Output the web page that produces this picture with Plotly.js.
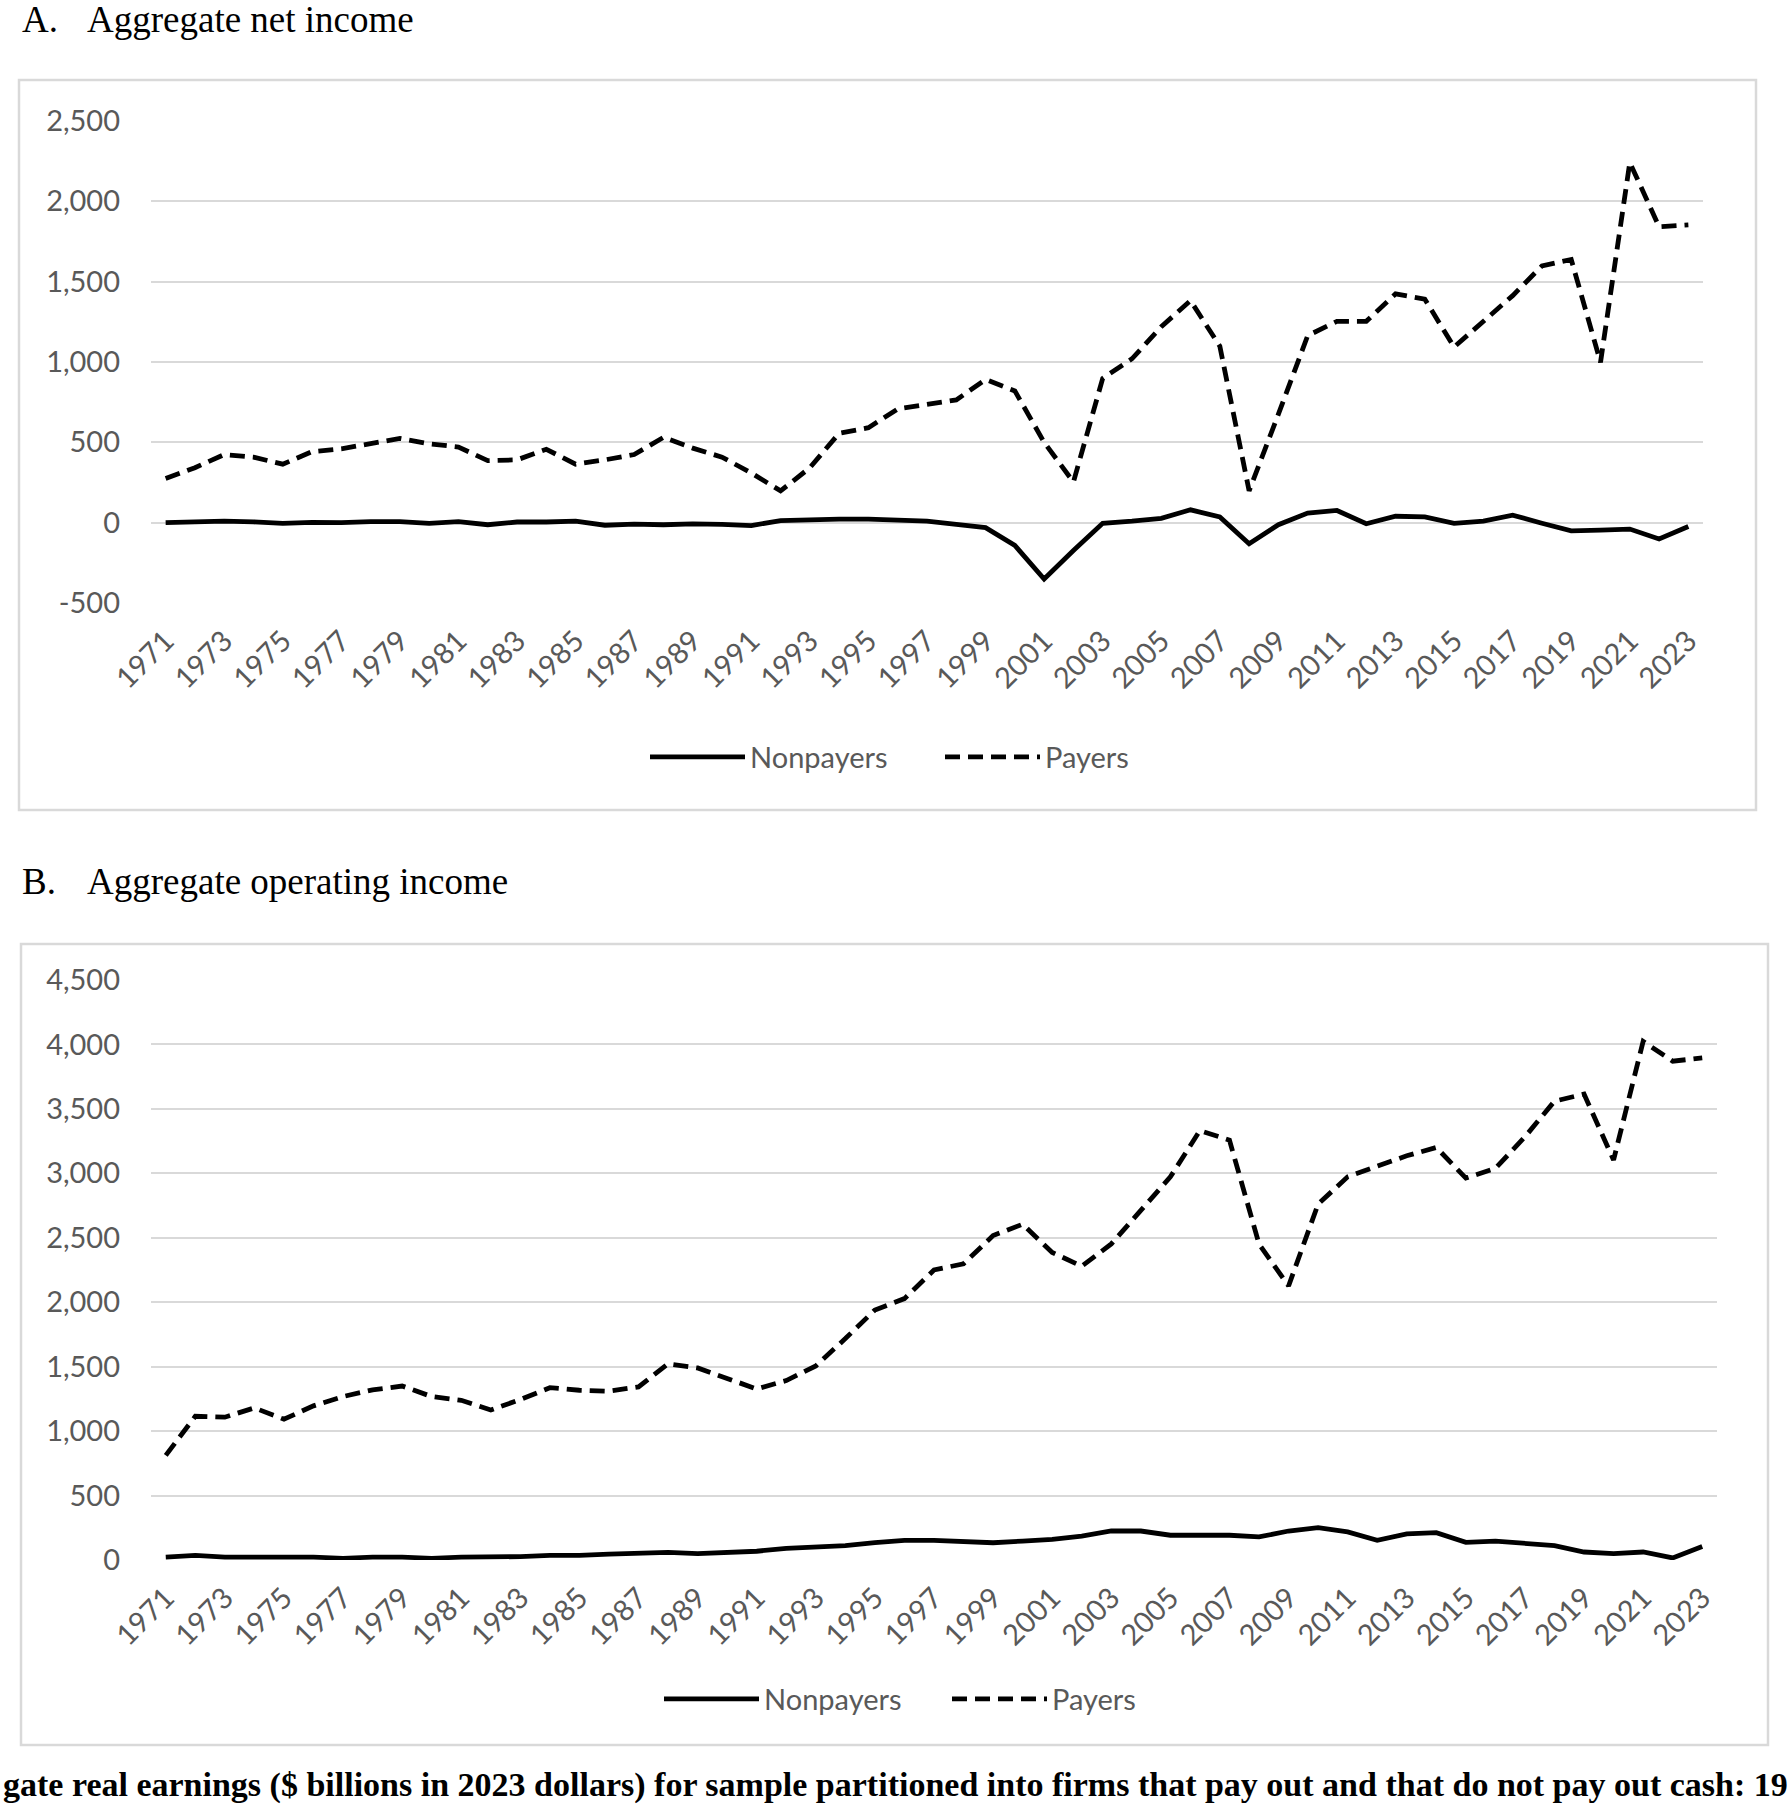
<!DOCTYPE html>
<html>
<head>
<meta charset="utf-8">
<script src="https://cdn.plot.ly/plotly-3.0.1.min.js"></script>
<style>html,body{margin:0;padding:0;background:#fff;}#chart{width:1790px;height:1806px;}</style>
</head>
<body>
<div id="chart"></div>
<script>
const years = [1971,1972,1973,1974,1975,1976,1977,1978,1979,1980,1981,1982,1983,1984,1985,1986,1987,1988,1989,1990,1991,1992,1993,1994,1995,1996,1997,1998,1999,2000,2001,2002,2003,2004,2005,2006,2007,2008,2009,2010,2011,2012,2013,2014,2015,2016,2017,2018,2019,2020,2021,2022,2023];
const xTickYears = [1971,1973,1975,1977,1979,1981,1983,1985,1987,1989,1991,1993,1995,1997,1999,2001,2003,2005,2007,2009,2011,2013,2015,2017,2019,2021,2023];
const xTickLabels = ['1971','1973','1975','1977','1979','1981','1983','1985','1987','1989','1991','1993','1995','1997','1999','2001','2003','2005','2007','2009','2011','2013','2015','2017','2019','2021','2023'];

// Panel A: aggregate net income ($ billions, 2023 dollars)
const netNonpayers = [0,7,9,5,-4,2,0,7,7,-4,7,-13,4,4,9,-16,-9,-13,-7,-11,-18,13,20,22,22,18,9,-11,-31,-142,-351,-173,-4,9,27,80,36,-131,-13,60,76,-7,40,36,-4,9,47,-4,-51,-47,-40,-102,-24];
const netPayers = [275,342,424,408,364,442,460,491,524,491,471,386,391,457,364,391,424,531,464,408,309,198,342,557,591,708,737,764,891,820,500,253,898,1020,1220,1382,1098,198,675,1164,1253,1253,1424,1391,1093,1258,1413,1598,1638,998,2242,1842,1853];
const yTicksA = [-500,0,500,1000,1500,2000,2500];
const yTickLabelsA = ['-500','0','500','1,000','1,500','2,000','2,500'];

// Panel B: aggregate operating income ($ billions, 2023 dollars)
const opNonpayers = [23,36,23,26,26,23,13,23,23,13,23,23,26,36,36,46,49,59,49,59,68,91,104,111,134,153,153,147,134,147,160,186,225,225,192,192,192,179,225,251,218,153,202,212,137,147,127,111,62,49,62,16,104];
const opPayers = [812,1115,1108,1180,1092,1196,1268,1320,1350,1268,1239,1164,1245,1337,1317,1310,1343,1522,1490,1408,1327,1392,1506,1718,1940,2028,2250,2298,2517,2605,2386,2279,2452,2712,2973,3332,3257,2452,2126,2761,2973,3055,3136,3201,2963,3038,3283,3560,3615,3104,4023,3870,3896];
const yTicksB = [0,500,1000,1500,2000,2500,3000,3500,4000,4500];
const yTickLabelsB = ['0','500','1,000','1,500','2,000','2,500','3,000','3,500','4,000','4,500'];

const seriesNames = ['Nonpayers','Payers'];
const panelTitles = ['A.', 'Aggregate net income', 'B.', 'Aggregate operating income'];
const captionText = 'gate real earnings ($ billions in 2023 dollars) for sample partitioned into firms that pay out and that do not pay out cash: 19';

const W = 1790, H = 1806;
const px = v => v / W;
const py = v => 1 - v / H;

const tickFont = {family: 'Lato, Carlito, "Open Sans", sans-serif', size: 29, color: '#595959'};
const solid = {color: '#000', width: 4.8, dash: 'solid'};
const dashed = {color: '#000', width: 4.8, dash: '15px,8px'};

const traces = [
  {x: years, y: netNonpayers, name: seriesNames[0], type: 'scatter', mode: 'lines', line: solid, xaxis: 'x', yaxis: 'y', legend: 'legend'},
  {x: years, y: netPayers, name: seriesNames[1], type: 'scatter', mode: 'lines', line: dashed, xaxis: 'x', yaxis: 'y', legend: 'legend'},
  {x: years, y: opNonpayers, name: seriesNames[0], type: 'scatter', mode: 'lines', line: solid, xaxis: 'x2', yaxis: 'y2', legend: 'legend2'},
  {x: years, y: opPayers, name: seriesNames[1], type: 'scatter', mode: 'lines', line: dashed, xaxis: 'x2', yaxis: 'y2', legend: 'legend2'}
];

const xCommon = {
  range: [1970.5, 2023.5], tickmode: 'array', tickvals: xTickYears, ticktext: xTickLabels,
  tickangle: -45, showgrid: false, zeroline: false, showline: false, ticks: '',
  tickfont: tickFont, ticklabelstandoff: 14, fixedrange: true
};
const yCommon = {
  showgrid: true, gridcolor: '#d9d9d9', gridwidth: 2, zeroline: false, showline: false,
  ticks: '', tickfont: tickFont, ticklabelstandoff: 30, fixedrange: true
};

const legendCommon = {
  orientation: 'h', xanchor: 'left', yanchor: 'middle', bgcolor: 'rgba(0,0,0,0)',
  font: {family: 'Lato, Carlito, "Open Sans", sans-serif', size: 29, color: '#595959'},
  itemwidth: 95, traceorder: 'normal', itemclick: false, itemdoubleclick: false,
  entrywidthmode: 'pixels'
};

const layout = {
  width: W, height: H,
  margin: {l: 0, r: 0, t: 0, b: 0, pad: 0},
  paper_bgcolor: '#fff', plot_bgcolor: '#fff',
  showlegend: true,
  xaxis: Object.assign({}, xCommon, {domain: [px(151), px(1703)], anchor: 'y'}),
  yaxis: Object.assign({}, yCommon, {domain: [py(603), py(121)], range: [-500, 2500], tickmode: 'array', tickvals: yTicksA, ticktext: yTickLabelsA, anchor: 'x'}),
  xaxis2: Object.assign({}, xCommon, {domain: [px(151), px(1717)], anchor: 'y2'}),
  yaxis2: Object.assign({}, yCommon, {domain: [py(1560), py(980)], range: [0, 4500], tickmode: 'array', tickvals: yTicksB, ticktext: yTickLabelsB, anchor: 'x2'}),
  legend: Object.assign({}, legendCommon, {x: px(645), y: py(757), entrywidth: 185}),
  legend2: Object.assign({}, legendCommon, {x: px(659), y: py(1699), entrywidth: 178}),
  shapes: [
    {type: 'rect', xref: 'paper', yref: 'paper', x0: px(19), x1: px(1756), y0: py(810), y1: py(80), line: {color: '#d9d9d9', width: 2.5}, fillcolor: 'rgba(0,0,0,0)', layer: 'below'},
    {type: 'rect', xref: 'paper', yref: 'paper', x0: px(21), x1: px(1768), y0: py(1745), y1: py(944), line: {color: '#d9d9d9', width: 2.5}, fillcolor: 'rgba(0,0,0,0)', layer: 'below'}
  ],
  annotations: [
    {text: panelTitles[0], xref: 'paper', yref: 'paper', x: px(20), y: py(19), xanchor: 'left', yanchor: 'middle', showarrow: false, font: {family: '"Liberation Serif", "Times New Roman", serif', size: 37, color: '#000'}},
    {text: panelTitles[1], xref: 'paper', yref: 'paper', x: px(85), y: py(19), xanchor: 'left', yanchor: 'middle', showarrow: false, font: {family: '"Liberation Serif", "Times New Roman", serif', size: 37, color: '#000'}},
    {text: panelTitles[2], xref: 'paper', yref: 'paper', x: px(20), y: py(881), xanchor: 'left', yanchor: 'middle', showarrow: false, font: {family: '"Liberation Serif", "Times New Roman", serif', size: 37, color: '#000'}},
    {text: panelTitles[3], xref: 'paper', yref: 'paper', x: px(85), y: py(881), xanchor: 'left', yanchor: 'middle', showarrow: false, font: {family: '"Liberation Serif", "Times New Roman", serif', size: 37, color: '#000'}},
    {text: '<b>' + captionText + '</b>', xref: 'paper', yref: 'paper', x: px(1), y: 0, xanchor: 'left', yanchor: 'bottom', showarrow: false, font: {family: '"Liberation Serif", "Times New Roman", serif', size: 34, color: '#000'}}
  ]
};

Plotly.newPlot('chart', traces, layout, {staticPlot: true, displayModeBar: false});
</script>
</body>
</html>
